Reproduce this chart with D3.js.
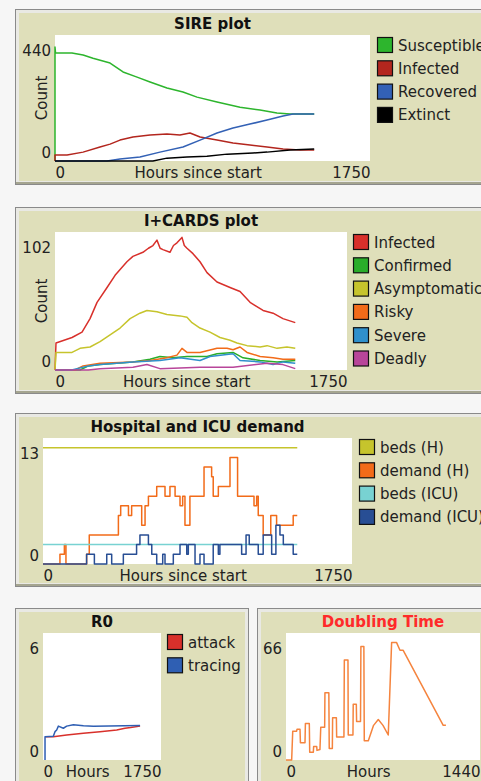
<!DOCTYPE html>
<html><head><meta charset="utf-8">
<script src="https://cdn.jsdelivr.net/npm/d3@7"></script>
<style>
body{margin:0;background:#f6f6f6;}
svg{display:block;font-family:"DejaVu Sans",Verdana,sans-serif;}
</style></head><body>
<svg id="c" width="481" height="781"></svg>
<script>
// ---------- DATA (hours, value) ----------
const sireX = [0, 1750], sireY = [0, 440];
const sireSusceptible = [[0,0],[0,398],[3,377],[94,377],[156,370],[211,359],[306,342],[378,311],[456,293],[528,276],[622,255],[711,241],[789,223],[900,206],[1028,188],[1139,178],[1233,168],[1306,164],[1440,164]];
const sireInfected = [[0,0],[0,21],[67,21],[156,31],[250,49],[306,59],[361,73],[433,84],[528,91],[622,94],[694,91],[750,98],[806,84],[900,73],[989,63],[1083,56],[1178,49],[1267,42],[1361,38],[1440,38]];
const sireRecovered = [[0,0],[289,0],[361,7],[472,14],[583,31],[711,49],[806,73],[900,98],[989,115],[1083,129],[1178,143],[1267,157],[1322,164],[1440,164]];
const sireExtinct = [[0,0],[544,0],[622,10],[733,14],[844,17],[956,24],[1100,28],[1178,31],[1306,38],[1440,42]];

const cardsX = [0, 1750], cardsY = [0, 102];
const cardsInfected = [[0,0],[6,20],[102,24],[162,28],[210,38],[252,50],[312,61],[360,70],[431,80],[467,84],[527,87],[560,90],[587,92],[611,96],[630,90],[647,89],[689,87],[710,92],[731,94],[761,98],[775,92],[791,90],[827,86],[869,80],[911,72],[971,65],[1049,61],[1109,58],[1169,50],[1247,44],[1307,42],[1366,38],[1440,35]];
const cardsConfirmed = [[0,0],[150,0],[200,3],[270,4],[467,6],[569,8],[629,10],[707,9],[791,10],[911,10],[971,12],[1067,13],[1127,9],[1229,7],[1331,6],[1440,7]];
const cardsAsymptomatic = [[0,0],[6,13],[102,13],[150,16],[210,17],[270,21],[330,26],[390,31],[450,38],[509,42],[551,44],[611,43],[671,41],[749,40],[791,39],[821,35],[869,31],[929,28],[989,24],[1049,22],[1091,20],[1151,18],[1229,17],[1271,18],[1331,16],[1390,17],[1440,16]];
const cardsRisky = [[0,0],[120,0],[168,3],[270,5],[467,6],[569,7],[671,9],[731,11],[761,16],[791,13],[869,13],[971,16],[1031,16],[1067,15],[1109,17],[1151,13],[1229,10],[1307,9],[1366,8],[1440,8]];
const cardsSevere = [[0,0],[100,0],[132,1],[200,3],[270,4],[467,6],[629,7],[749,9],[869,7],[929,10],[1067,12],[1109,7],[1229,6],[1307,4],[1366,6],[1440,5]];
const cardsDeadly = [[0,0],[200,0],[270,1],[467,2],[551,4],[629,1],[869,2],[1067,2],[1271,5],[1366,4],[1440,1]];

const hospX = [0, 1750], hospY = [0, 13];
const hospBedsH = [[0,12],[1440,12]];
const hospDemandH = [[0,0],[96,1],[121,2],[130,0],[247,1],[262,3],[427,5],[440,6],[484,5],[502,6],[559,4],[578,6],[597,7],[644,8],[691,7],[719,8],[748,7],[776,6],[791,7],[804,4],[832,7],[912,10],[955,9],[964,7],[993,8],[1059,11],[1102,7],[1195,6],[1210,7],[1219,5],[1247,3],[1290,5],[1323,4],[1417,5],[1440,5]];
const hospBedsICU = [[0,2],[1440,2]];
const hospDemandICU = [[0,0],[247,1],[291,0],[361,1],[389,0],[455,1],[530,2],[549,3],[597,2],[616,1],[644,0],[678,1],[691,0],[738,1],[776,2],[814,1],[823,2],[861,0],[889,1],[912,0],[964,2],[993,1],[1002,2],[1125,1],[1150,3],[1168,2],[1219,1],[1247,3],[1295,1],[1319,4],[1342,3],[1361,2],[1417,1],[1440,1]];

const r0X = [0, 1750], r0Y = [0, 6];
const r0Attack = [[30,1.1],[153,1.1],[351,1.18],[598,1.26],[845,1.34],[1093,1.42],[1216,1.5],[1300,1.53],[1440,1.6]];
const r0Tracing = [[30,0],[30,1.1],[153,1.12],[178,1.34],[203,1.42],[228,1.6],[302,1.5],[351,1.6],[450,1.67],[600,1.62],[747,1.6],[1440,1.63]];

const dblX = [0, 1440], dblY = [0, 66];
const dblTime = [[0,0],[42,0],[50,15],[79,15],[82,16],[104,16],[107,9],[141,9],[144,19],[173,19],[176,4],[203,4],[205,7],[228,7],[230,5],[252,5.5],[258,17],[287,17],[289,35],[318,35],[321,6],[344,6],[346,22],[374,22],[376,12],[430,12],[433,52],[460,52],[462,13],[497,13],[499,29],[522,29],[524,20],[553,20],[556,59],[578,59],[581,10],[611,10],[650,18],[685,21],[720,18],[759,13],[784,61],[821,61],[846,57],[870,57],[1167,18],[1187,18]];

// ---------- DRAWING ----------
const svg = d3.select("#c");
const BEIGE = "#dfdfba";

function drawPanel(p) {
  const g = svg.append("g");
  g.append("rect").attr("x", p.x + 0.5).attr("y", p.y + 0.5).attr("width", p.w).attr("height", p.h)
    .attr("fill", "#e9e9e4").attr("stroke", "#8a8a8a");
  g.append("rect").attr("x", p.x + 4).attr("y", p.y + 4).attr("width", p.w - 7).attr("height", p.h - 7)
    .attr("fill", BEIGE);
  g.append("line").attr("x1", p.x + 1).attr("x2", p.x + p.w).attr("y1", p.y + p.h - 1).attr("y2", p.y + p.h - 1)
    .attr("stroke", "#a5a590").attr("stroke-width", 2);
  return g;
}

function drawPlot(cfg) {
  const g = drawPanel(cfg.panel);
  const [x0, x1, y0, y1] = cfg.plot; // left, right, top, bottom
  g.append("rect").attr("x", x0).attr("y", y0).attr("width", x1 - x0).attr("height", y1 - y0).attr("fill", "#fff");
  const x = d3.scaleLinear().domain(cfg.xDomain).range([x0, x1]);
  const y = d3.scaleLinear().domain(cfg.yDomain).range([y1, y0]);
  const clipId = "clip" + cfg.id;
  svg.append("clipPath").attr("id", clipId).append("rect")
    .attr("x", x0 - 1).attr("y", y0).attr("width", x1 - x0 + 2).attr("height", y1 - y0 + 1);

  // title
  g.append("text").attr("x", (x0 + x1) / 2).attr("y", y0 - 11).attr("text-anchor", "middle")
    .attr("dominant-baseline", "central").attr("font-weight", "bold").attr("font-size", cfg.titleSize || 15)
    .attr("fill", cfg.titleColor || "#111").text(cfg.title);

  // x axis (min / max labels)
  const xa = g.append("g").attr("transform", `translate(0,${y1})`)
    .call(d3.axisBottom(x).tickValues(cfg.xDomain).tickSize(0).tickFormat(d3.format("d")));
  xa.select(".domain").remove();
  xa.selectAll("text").attr("font-size", 15).attr("fill", "#222").attr("font-family", "DejaVu Sans")
    .attr("dy", null).attr("y", 11.5).attr("dominant-baseline", "central")
    .attr("text-anchor", (d, i) => i === 0 ? "start" : "end");
  const ticksX = xa.selectAll("text").nodes();
  const minEnd = ticksX[0].getBBox ? (x0 + ticksX[0].getComputedTextLength()) : x0 + 9;
  const maxStart = x1 - ticksX[1].getComputedTextLength();
  g.append("text").attr("x", (minEnd + maxStart) / 2).attr("y", y1 + 11.5).attr("text-anchor", "middle")
    .attr("dominant-baseline", "central").attr("font-size", 15).attr("fill", "#222").text(cfg.xLabel);

  // y axis
  const ya = g.append("g").attr("transform", `translate(${x0 - 4},0)`)
    .call(d3.axisLeft(y).tickValues(cfg.yDomain).tickSize(0).tickPadding(0).tickFormat(d3.format("d")));
  ya.select(".domain").remove();
  ya.selectAll("text").attr("font-size", 15).attr("fill", "#222").attr("font-family", "DejaVu Sans")
    .attr("dy", null).attr("dominant-baseline", "central")
    .attr("transform", (d, i) => i === 0 ? "translate(0,-9)" : "translate(0,15.5)");
  if (cfg.yLabel) {
    g.append("text").attr("transform", `translate(${cfg.yLabelX},${(y0 + y1) / 2}) rotate(-90)`)
      .attr("text-anchor", "middle").attr("dominant-baseline", "central").attr("font-size", 15)
      .attr("fill", "#222").text(cfg.yLabel);
  }

  // series
  const line = d3.line().x(d => x(d[0])).y(d => y(d[1])).curve(cfg.curve || d3.curveLinear);
  const lg = g.append("g").attr("clip-path", `url(#${clipId})`);
  cfg.series.forEach(s => {
    lg.append("path").datum(s.data).attr("d", line).attr("fill", "none")
      .attr("stroke", s.color).attr("stroke-width", 1.5).attr("stroke-linejoin", "round");
  });

  // legend
  if (cfg.legend) {
    const [lx, ly] = cfg.legend;
    cfg.series.filter(s => s.name).forEach((s, i) => {
      const yy = ly + i * 23.3;
      g.append("rect").attr("x", lx + 0.5).attr("y", yy + 0.5).attr("width", 15).attr("height", 15)
        .attr("fill", s.color).attr("stroke", "#111").attr("stroke-width", 1.2);
      g.append("text").attr("x", lx + 21).attr("y", yy + 8.5).attr("dominant-baseline", "central")
        .attr("font-size", 15).attr("fill", "#222").text(s.name);
    });
  }
}

drawPlot({
  id: 1, panel: {x: 15, y: 9, w: 480, h: 175}, plot: [55, 370, 35, 161],
  title: "SIRE plot", xDomain: sireX, yDomain: sireY, xLabel: "Hours since start",
  yLabel: "Count", yLabelX: 42, legend: [377, 37],
  series: [
    {name: "Susceptible", color: "#2db52d", data: sireSusceptible},
    {name: "Infected", color: "#b3261e", data: sireInfected},
    {name: "Recovered", color: "#3361b5", data: sireRecovered},
    {name: "Extinct", color: "#000000", data: sireExtinct}
  ]
});

drawPlot({
  id: 2, panel: {x: 15, y: 207, w: 480, h: 186}, plot: [55, 347, 232, 370],
  title: "I+CARDS plot", xDomain: cardsX, yDomain: cardsY, xLabel: "Hours since start",
  yLabel: "Count", yLabelX: 42, legend: [353, 234],
  series: [
    {name: "Infected", color: "#d8302b", data: cardsInfected},
    {name: "Confirmed", color: "#2aad2a", data: cardsConfirmed},
    {name: "Asymptomatic", color: "#c6c42c", data: cardsAsymptomatic},
    {name: "Risky", color: "#f26b19", data: cardsRisky},
    {name: "Severe", color: "#2f90cc", data: cardsSevere},
    {name: "Deadly", color: "#b8459a", data: cardsDeadly}
  ]
});

drawPlot({
  id: 3, panel: {x: 15, y: 413, w: 480, h: 173}, plot: [43, 352, 438, 564],
  title: "Hospital and ICU demand", xDomain: hospX, yDomain: hospY, xLabel: "Hours since start",
  legend: [359, 439], curve: d3.curveStepAfter,
  series: [
    {name: "beds (H)", color: "#c6c42c", data: hospBedsH},
    {name: "demand (H)", color: "#f26b19", data: hospDemandH},
    {name: "beds (ICU)", color: "#78d2d2", data: hospBedsICU},
    {name: "demand (ICU)", color: "#284e94", data: hospDemandICU}
  ]
});

drawPlot({
  id: 4, panel: {x: 15, y: 608, w: 233, h: 190}, plot: [43, 161, 633, 760],
  title: "R0", xDomain: r0X, yDomain: r0Y, xLabel: "Hours",
  legend: [167, 634],
  series: [
    {name: "attack", color: "#d8302b", data: r0Attack},
    {name: "tracing", color: "#2f5fb3", data: r0Tracing}
  ]
});

drawPlot({
  id: 5, panel: {x: 257, y: 608, w: 240, h: 190}, plot: [286, 480, 633, 760],
  title: "Doubling Time", titleColor: "#ff2a2a", xDomain: dblX, yDomain: dblY, xLabel: "Hours",
  series: [
    {name: null, color: "#f5843e", data: dblTime}
  ]
});
</script>
</body></html>
